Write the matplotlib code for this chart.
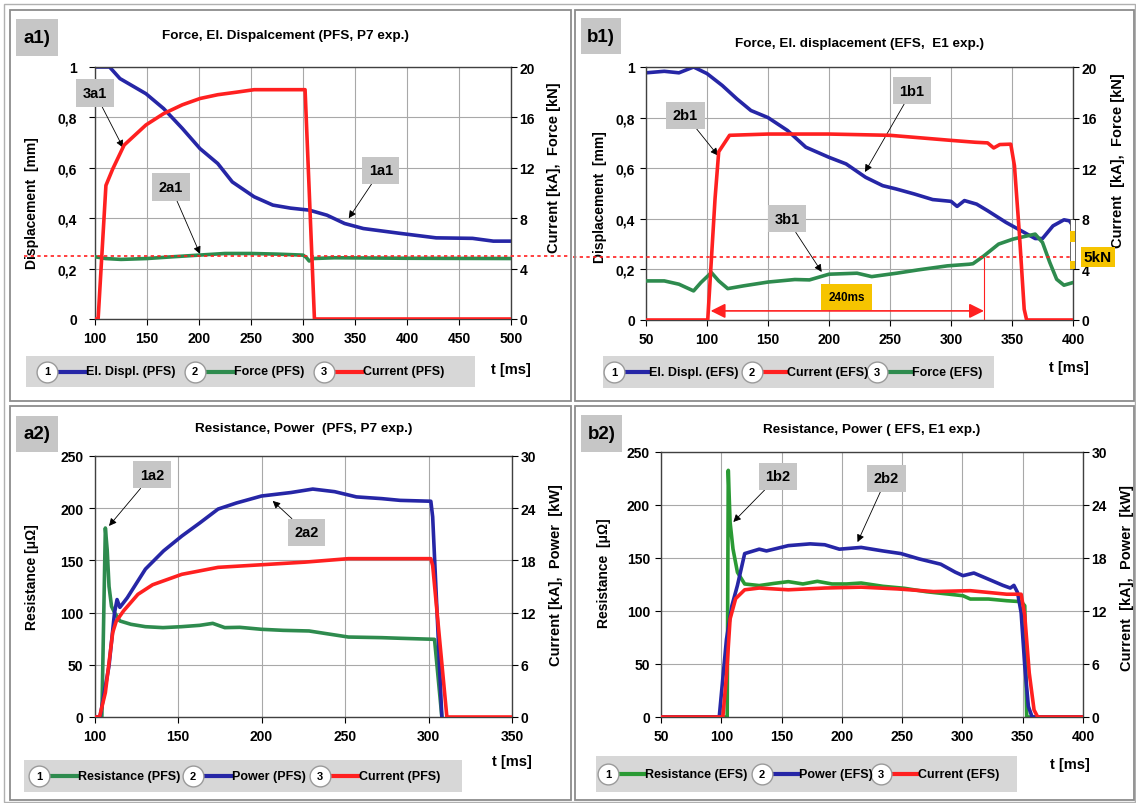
import matplotlib
matplotlib.use("Agg")
import matplotlib.pyplot as plt
from matplotlib.lines import Line2D
from matplotlib.patches import Rectangle
from matplotlib.ticker import FuncFormatter, MultipleLocator
from matplotlib.transforms import blended_transform_factory

plt.rcParams["font.family"] = ["Liberation Sans Narrow", "Liberation Sans", "DejaVu Sans"]
plt.rcParams["font.weight"] = "bold"

W, H = 1136, 804

BLUE = "#2626a6"
GREEN = "#2e8b4e"
GREEN_B2 = "#2a9a34"
RED = "#ff2020"
GRID = "#a8a8a8"
BOX = "#c6c6c6"
LEG_BG = "#d7d7d7"
GOLD = "#f6c400"

FORCE_REF_KN = 5  # dotted red reference line

# ---- a1) PFS, P7 exp.: displacement / force / current ----
A1_DISP_T = [100, 114, 124, 149, 166, 184, 201, 218, 232, 253, 271, 288, 306, 323, 340, 358, 393, 428, 463, 483, 500]
A1_DISP_MM = [1.0, 1.0, 0.954, 0.894, 0.835, 0.756, 0.676, 0.617, 0.544, 0.485, 0.452, 0.44, 0.432, 0.412, 0.379,
              0.359, 0.34, 0.322, 0.32, 0.309, 0.309]
A1_FORCE_T = [100, 110, 125, 150, 175, 200, 225, 250, 275, 300, 303, 306, 310, 330, 400, 500]
A1_FORCE_KN = [4.94, 4.8, 4.73, 4.8, 4.94, 5.07, 5.2, 5.2, 5.15, 5.07, 4.9, 4.6, 4.8, 4.86, 4.82, 4.8]
A1_CURR_T = [100, 103, 110.5, 117, 128, 149, 166, 184, 201, 218, 236, 253, 302, 311, 500]
A1_CURR_KA = [0, 0, 10.6, 11.9, 13.8, 15.4, 16.3, 17.0, 17.5, 17.8, 18.0, 18.2, 18.2, 0, 0]

# ---- b1) EFS, E1 exp.: displacement / current / force ----
B1_DISP_T = [50, 65, 77, 89, 100, 112.5, 124.5, 136, 150, 166, 181, 200, 214, 230, 244, 255, 270, 285, 300, 305,
             311, 321, 330, 345, 360, 369, 375, 383.6, 392.6, 397, 400]
B1_DISP_MM = [0.977, 0.983, 0.977, 1.0, 0.974, 0.927, 0.874, 0.828, 0.80, 0.749, 0.683, 0.643, 0.617, 0.564, 0.531,
              0.518, 0.498, 0.476, 0.469, 0.449, 0.472, 0.458, 0.432, 0.386, 0.346, 0.322, 0.322, 0.372, 0.396,
              0.392, 0.372]
B1_CURR_T = [50, 100.6, 106.6, 109.6, 118.5, 150, 200, 250, 300, 320, 330, 335, 340, 349, 352, 356, 360, 362, 400]
B1_CURR_KA = [0, 0, 9.6, 13.3, 14.6, 14.7, 14.7, 14.6, 14.2, 14.05, 14.0, 13.6, 13.87, 13.9, 12.2, 6.9, 0.85, 0, 0]
B1_FORCE_T = [50, 65, 77, 89, 95, 103.6, 109.6, 117, 130, 150, 172, 184, 200, 223, 235, 255.5, 273, 297, 315, 318,
              327, 339, 351, 363, 369, 375, 381, 386.6, 392.6, 400]
B1_FORCE_KN = [3.09, 3.09, 2.83, 2.3, 2.96, 3.75, 3.09, 2.48, 2.7, 3.0, 3.2, 3.17, 3.62, 3.7, 3.43, 3.7, 3.96, 4.28,
               4.41, 4.45, 5.07, 6.0, 6.4, 6.66, 6.79, 6.13, 4.54, 3.22, 2.75, 2.96]
B1_WELD_START, B1_WELD_END = 103, 327  # the 240 ms span

# ---- a2) PFS, P7 exp.: resistance / power / current ----
A2_RES_T = [100, 104.4, 106.5, 107.6, 108.7, 110.2, 112, 115.2, 121.8, 130.5, 141, 152, 163, 170.8, 178, 187, 200,
            213, 228.5, 239, 252, 272, 283, 303.6, 308]
A2_RES_UOHM = [0, 0, 181, 160, 125, 106, 100, 92, 88.8, 86.5, 85.6, 86.5, 87.8, 89.7, 85.6, 85.9, 84, 83, 82.4,
               79.8, 76.6, 76, 75.4, 74.4, 0]
A2_POW_T = [100, 103.3, 108.7, 112, 113.5, 115.2, 119.6, 130.5, 141.4, 152.3, 163, 174, 185, 200, 217.6, 230.7,
            243.8, 256.8, 272, 283, 301.4, 302.5, 308]
A2_POW_KW = [0, 0, 5.9, 12.0, 13.5, 12.6, 13.7, 17.0, 19.1, 20.8, 22.3, 23.9, 24.6, 25.4, 25.8, 26.2, 25.9, 25.3,
             25.1, 24.9, 24.8, 23.0, 0]
A2_CURR_T = [100, 103, 106.5, 110.9, 113, 117.4, 126, 134.8, 152.3, 174, 200, 226, 252, 301.4, 302.5, 311, 350]
A2_CURR_KA = [0, 0, 2.8, 9.7, 11.0, 12.2, 14.1, 15.2, 16.4, 17.2, 17.5, 17.8, 18.2, 18.2, 17.4, 0, 0]

# ---- b2) EFS, E1 exp.: resistance / power / current ----
B2_RES_T = [50, 104.9, 105.8, 107.3, 109.7, 113.4, 119.4, 131.5, 143.5, 155.6, 167.7, 179.7, 191.8, 203.9, 216, 234,
            252, 270, 288, 300.5, 306.5, 321.6, 336.7, 348.7, 351.7, 353.3, 400]
B2_RES_UOHM = [0, 0, 232.7, 183.8, 158.6, 136.5, 125.5, 124, 126, 127.7, 125.5, 128, 125.5, 125.5, 126.4, 123.3,
               121.4, 118.2, 116, 114.4, 111.3, 111.3, 109.7, 108.8, 105, 0, 0]
B2_POW_T = [50, 98.3, 104.3, 108.8, 113.4, 119.4, 131.5, 137.5, 155.6, 173.7, 185.8, 197.9, 216, 234, 249, 264, 282,
            294, 300.5, 309.5, 321.6, 333.6, 339.7, 342.7, 345.7, 348.7, 351.7, 354.7, 357.8, 400]
B2_POW_KW = [0, 0, 8.8, 12.6, 14.9, 18.5, 19.0, 18.8, 19.4, 19.6, 19.5, 19.0, 19.2, 18.8, 18.5, 17.9, 17.3, 16.4,
             16.0, 16.3, 15.6, 14.9, 14.6, 14.9, 14.1, 11.8, 5.8, 1.2, 0, 0]
B2_CURR_T = [50, 101.3, 104.3, 107.3, 111.9, 119.4, 131.5, 155.6, 185.8, 216, 246, 276, 306.5, 336.7, 348.7, 351.7,
             355.4, 359.4, 362.4, 400]
B2_CURR_KA = [0, 0, 4.7, 11.1, 13.4, 14.4, 14.6, 14.4, 14.6, 14.7, 14.5, 14.2, 14.3, 13.9, 13.9, 11.5, 5.0, 0.8, 0, 0]


def fx(px):
    return px / W


def fy(py):
    return 1 - py / H


def comma(v, _pos=None):
    return f"{v:g}".replace(".", ",")


fig = plt.figure(figsize=(W / 100, H / 100), dpi=100)
fig.patch.set_facecolor("white")


def frame(x0, y0, x1, y1, lw=1.3, color="#8c8c8c"):
    fig.add_artist(Rectangle((fx(x0), fy(y1)), fx(x1 - x0), (y1 - y0) / H, transform=fig.transFigure,
                             fc="none", ec=color, lw=lw, zorder=5))


def tag_box(x0, y0, x1, y1, text):
    fig.add_artist(Rectangle((fx(x0), fy(y1)), fx(x1 - x0), (y1 - y0) / H, transform=fig.transFigure,
                             fc=BOX, ec="none"))
    fig.text(fx((x0 + x1) / 2), fy((y0 + y1) / 2), text, fontsize=13.5, fontweight="bold",
             ha="center", va="center")


def legend(x0, y0, x1, y1, entries, line_len):
    fig.add_artist(Rectangle((fx(x0), fy(y1)), fx(x1 - x0), (y1 - y0) / H, transform=fig.transFigure,
                             fc=LEG_BG, ec="none"))
    yc = (y0 + y1) / 2
    for i, (cx, color, label) in enumerate(entries, start=1):
        fig.add_artist(Line2D([fx(cx + 10), fx(cx + 10 + line_len)], [fy(yc), fy(yc)], color=color, lw=3,
                              transform=fig.transFigure))
        fig.add_artist(Line2D([fx(cx)], [fy(yc)], marker="o", ms=15, mfc="white", mec="#9a9a9a", mew=1,
                              transform=fig.transFigure))
        fig.text(fx(cx), fy(yc), str(i), fontsize=8, ha="center", va="center")
        fig.text(fx(cx + 11 + line_len), fy(yc), label, fontsize=9, ha="left", va="center")


def setup(rect, xlim, xstep, ylim, ystep, y2lim, y2step, ylabel, y2label, lab_l, lab_r,
          fmt_left=False, lpad=4):
    ax = fig.add_axes(rect)
    ax.set_xlim(*xlim)
    ax.set_ylim(*ylim)
    ax.xaxis.set_major_locator(MultipleLocator(xstep))
    ax.yaxis.set_major_locator(MultipleLocator(ystep))
    if fmt_left:
        ax.yaxis.set_major_formatter(FuncFormatter(comma))
    ax.grid(True, color=GRID, lw=0.8)
    ax.set_axisbelow(True)
    ax.tick_params(labelsize=10, length=4, width=0.8, direction="out")
    ax.tick_params(axis="x", pad=5)
    ax.tick_params(axis="y", pad=lpad)
    ax.set_ylabel(ylabel, fontsize=10, fontweight="bold")
    ax.yaxis.set_label_coords(*lab_l)
    for s in ax.spines.values():
        s.set_color("#404040")
        s.set_linewidth(1.0)
    ax2 = ax.twinx()
    ax2.set_ylim(*y2lim)
    ax2.yaxis.set_major_locator(MultipleLocator(y2step))
    ax2.tick_params(labelsize=10, length=4, width=0.8, direction="out", pad=2)
    ax2.set_ylabel(y2label, fontsize=10.5, fontweight="bold")
    ax2.yaxis.set_label_coords(*lab_r)
    for s in ax2.spines.values():
        s.set_visible(False)
    for lbl in ax.get_xticklabels() + ax.get_yticklabels() + ax2.get_yticklabels():
        lbl.set_fontweight("bold")
    return ax, ax2


def callout(ax, text, xy, xytext):
    ax.annotate(text, xy=xy, xytext=xytext, fontsize=10.5, fontweight="bold", ha="center", va="center",
                annotation_clip=False, zorder=10,
                bbox=dict(boxstyle="square,pad=0.45", fc=BOX, ec="none"),
                arrowprops=dict(arrowstyle="-|>", color="black", lw=0.6, mutation_scale=11,
                                shrinkA=0, shrinkB=0))


def t_label(ax, x, y):
    ax.text(x, y, "t [ms]", transform=ax.transAxes, fontsize=10.5, fontweight="bold", ha="center", va="center")


# ---------------- a1 ----------------
ax, ax2 = setup([fx(95), fy(320), fx(416), 252 / H], (100, 500), 50, (0, 1), 0.2, (0, 20), 4,
                "Displacement  [mm]", "Current [kA],  Force [kN]", (-0.135, 0.464), (1.087, 0.603),
                fmt_left=True, lpad=9)
ax.plot(A1_DISP_T, A1_DISP_MM, color=BLUE, lw=2.6, solid_capstyle="butt")
ax2.plot(A1_FORCE_T, A1_FORCE_KN, color=GREEN, lw=2.6)
ax2.plot(A1_CURR_T, A1_CURR_KA, color=RED, lw=2.6)
ax2.axhline(FORCE_REF_KN, xmin=-0.17, xmax=1.14, clip_on=False, color=RED, lw=1.2, ls=(0, (2, 2)))
ax.set_title("Force, El. Dispalcement (PFS, P7 exp.)", fontsize=9.7, fontweight="bold", pad=21, x=0.457)
callout(ax, "3a1", (127, 0.68), (100, 0.897))
callout(ax, "2a1", (201, 0.258), (173, 0.524))
callout(ax, "1a1", (344, 0.40), (374.7, 0.59))
t_label(ax, 1.0, -0.198)

# ---------------- b1 ----------------
bx, bx2 = setup([fx(646), fy(321), fx(427), 253 / H], (50, 400), 50, (0, 1), 0.2, (0, 20), 4,
                "Displacement  [mm]", "Current  [kA],  Force [kN]", (-0.091, 0.49), (1.089, 0.632),
                fmt_left=True)
bx.plot(B1_DISP_T, B1_DISP_MM, color=BLUE, lw=2.6)
bx2.plot(B1_FORCE_T, B1_FORCE_KN, color=GREEN, lw=2.6)
bx2.plot(B1_CURR_T, B1_CURR_KA, color=RED, lw=2.6)
bx2.axhline(FORCE_REF_KN, xmin=-0.17, xmax=1.0, clip_on=False, color=RED, lw=1.2, ls=(0, (2, 2)))
bx2.vlines(B1_WELD_END, 0, FORCE_REF_KN, color=RED, lw=0.8)
bx.annotate("", xy=(B1_WELD_START, 0.036), xytext=(B1_WELD_END, 0.036),
            arrowprops=dict(arrowstyle="<|-|>", color=RED, lw=1.2, mutation_scale=22, shrinkA=0, shrinkB=0))
bx.text((B1_WELD_START + B1_WELD_END) / 2 - 0.5, 0.09, "240ms", fontsize=8.5, fontweight="bold", ha="center",
        va="center", bbox=dict(boxstyle="square,pad=0.6", fc=GOLD, ec="none"))
bt = blended_transform_factory(bx2.transAxes, bx2.transData)
bx2.add_patch(Rectangle((0.993, 4), 0.012, 4, transform=bt, fc="white", ec="#505050", lw=0.6, clip_on=False))
bx2.add_patch(Rectangle((0.993, 6.2), 0.012, 0.8, transform=bt, fc=GOLD, ec="none", clip_on=False))
bx2.add_patch(Rectangle((0.993, 4), 0.012, 0.7, transform=bt, fc=GOLD, ec="none", clip_on=False))
bx2.text(1.058, FORCE_REF_KN, "5kN", transform=bt, fontsize=11, fontweight="bold", ha="center", va="center",
         bbox=dict(boxstyle="square,pad=0.2", fc=GOLD, ec="none"))
bx.set_title("Force, El. displacement (EFS,  E1 exp.)", fontsize=9.7, fontweight="bold", pad=15)
callout(bx, "2b1", (109, 0.65), (82.4, 0.81))
callout(bx, "1b1", (229.5, 0.585), (268, 0.907))
callout(bx, "3b1", (194, 0.19), (165.5, 0.40))
t_label(bx, 0.99, -0.185)

# ---------------- a2 ----------------
cx, cx2 = setup([fx(94.5), fy(718), fx(417.5), 261 / H], (100, 350), 50, (0, 250), 50, (0, 30), 6,
                "Resistance [\u03bc\u03a9]", "Current [kA],  Power  [kW]", (-0.133, 0.54), (1.089, 0.548))
cx.plot(A2_RES_T, A2_RES_UOHM, color=GREEN, lw=2.6)
cx2.plot(A2_POW_T, A2_POW_KW, color=BLUE, lw=2.6)
cx2.plot(A2_CURR_T, A2_CURR_KA, color=RED, lw=2.6)
cx.set_title("Resistance, Power  (PFS, P7 exp.)", fontsize=9.7, fontweight="bold", pad=18)
callout(cx, "1a2", (108.7, 183), (134.4, 232))
callout(cx, "2a2", (206.7, 207), (227, 177))
t_label(cx, 1.0, -0.17)

# ---------------- b2 ----------------
dx, dx2 = setup([fx(661), fy(718), fx(422), 265 / H], (50, 400), 50, (0, 250), 50, (0, 30), 6,
                "Resistance  [\u03bc\u03a9]", "Current  [kA],  Power  [kW]", (-0.118, 0.547), (1.088, 0.528))
dx.plot(B2_RES_T, B2_RES_UOHM, color=GREEN_B2, lw=2.6)
dx2.plot(B2_POW_T, B2_POW_KW, color=BLUE, lw=2.6)
dx2.plot(B2_CURR_T, B2_CURR_KA, color=RED, lw=2.6)
dx.set_title("Resistance, Power ( EFS, E1 exp.)", fontsize=9.7, fontweight="bold", pad=14.5)
callout(dx, "1b2", (110, 184), (147, 227))
callout(dx, "2b2", (213, 165), (237, 225))
t_label(dx, 0.97, -0.178)

# ---------------- panel decorations ----------------
frame(4, 5, 1135, 803, lw=1.0, color="#b0b0b0")
frame(10, 11, 571, 402)
frame(575, 11, 1134, 402)
frame(10, 407, 571, 801)
frame(575, 407, 1134, 801)

tag_box(16, 20, 58, 57, "a1)")
tag_box(581, 19, 621, 55, "b1)")
tag_box(16, 417, 58, 453, "a2)")
tag_box(581, 416, 622, 453, "b2)")

legend(26, 357, 475, 388, [(47, BLUE, "El. Displ. (PFS)"), (195, GREEN, "Force (PFS)"),
                           (324, RED, "Current (PFS)")], 28)
legend(603, 357, 994, 389, [(614, BLUE, "El. Displ. (EFS)"), (752, RED, "Current (EFS)"),
                            (877, GREEN, "Force (EFS)")], 24)
legend(24, 761, 462, 793, [(39, GREEN, "Resistance (PFS)"), (193, BLUE, "Power (PFS)"),
                           (320, RED, "Current (PFS)")], 28)
legend(596, 757, 1017, 793, [(608, GREEN_B2, "Resistance (EFS)"), (762, BLUE, "Power (EFS)"),
                             (881, RED, "Current (EFS)")], 26)

fig.savefig("out.png", dpi=100)
